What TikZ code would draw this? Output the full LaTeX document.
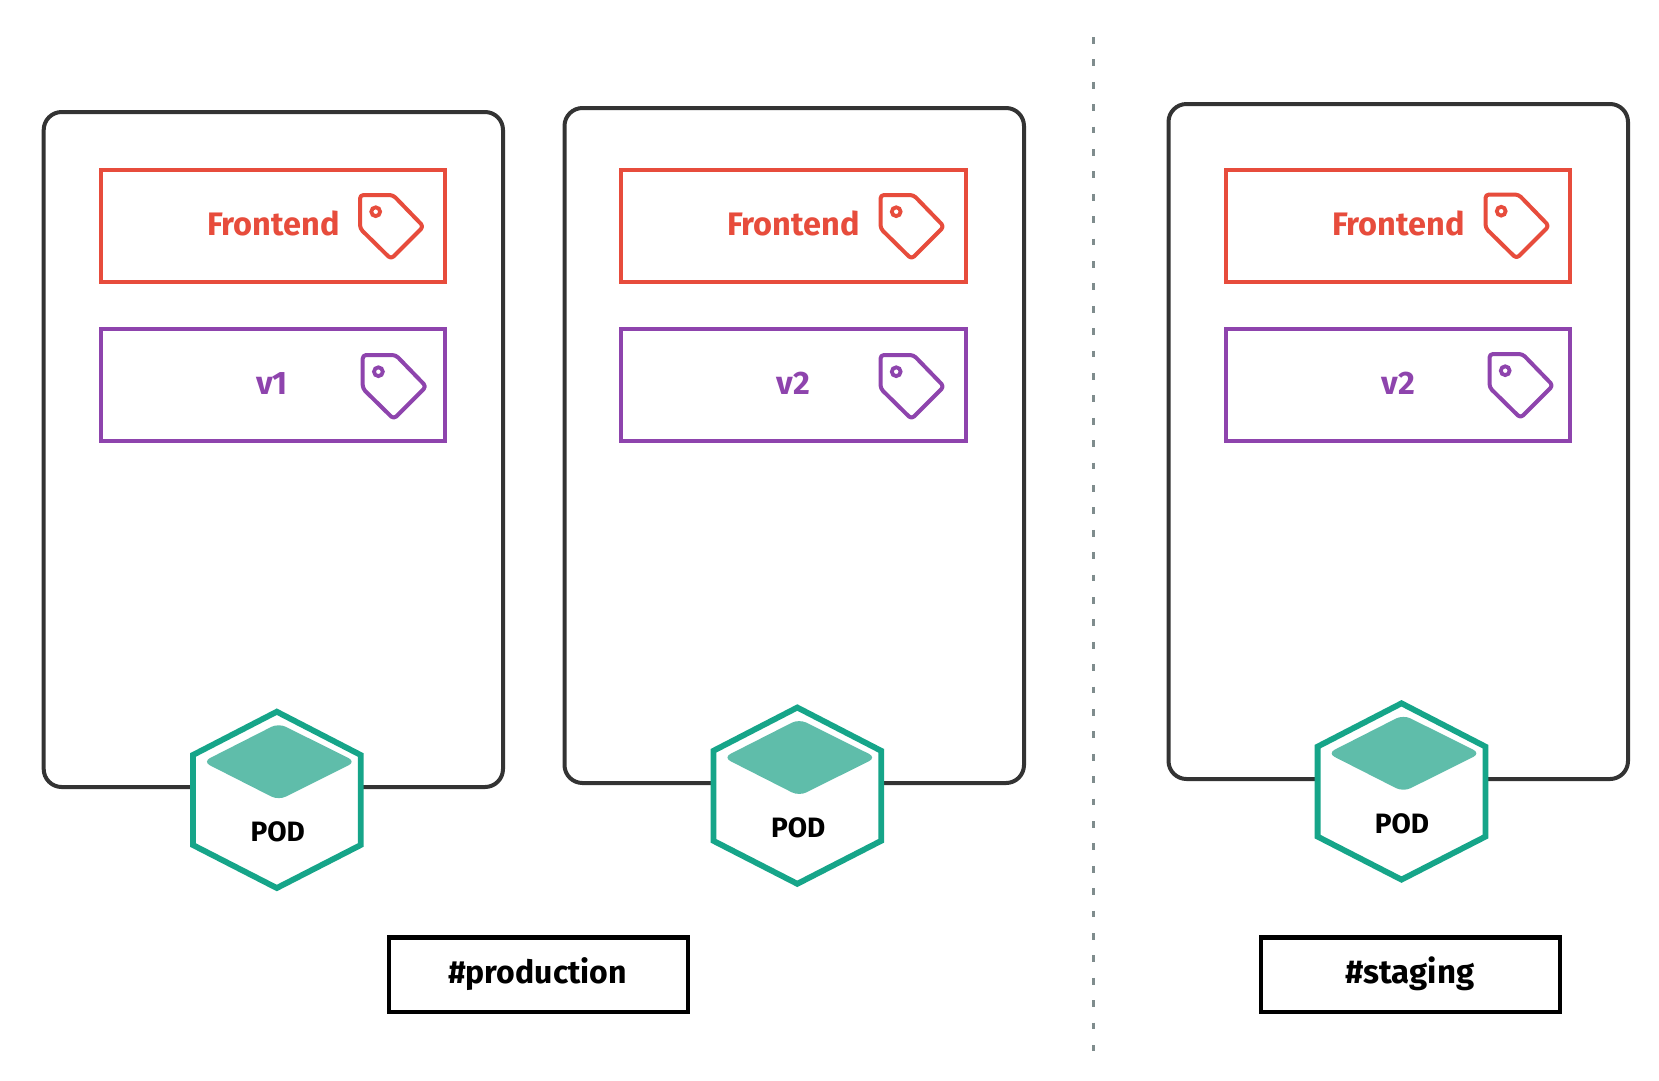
\documentclass[tikz,border=0pt]{standalone}
\usepackage{fontspec}
\setmainfont{Fira Sans}
\definecolor{tagred}{HTML}{E74C3C}
\definecolor{tagpurple}{HTML}{8E44AD}
\definecolor{boxdark}{HTML}{333333}
\definecolor{hexteal}{HTML}{16A589}
\definecolor{hexfill}{HTML}{5FBDAA}
\definecolor{dashgrey}{HTML}{7F8C8D}
\tikzset{
  nodebox/.style={draw=boxdark,line width=4pt,rounded corners=18pt},
  labelbox/.style={line width=4.2pt,fill=none},
  tagicon/.style={line width=4pt,rounded corners=3.5pt,line join=round},
  hexline/.style={draw=hexteal,fill=white,line width=5.8pt,line join=miter},
  hexdiamond/.style={fill=hexfill,rounded corners=8pt},
  labeltext/.style={anchor=base,inner sep=0pt,font=\fontsize{32.5}{32.5}\selectfont\bfseries},
  podtext/.style={anchor=base,inner sep=0pt,text=black,font=\fontsize{28}{28}\selectfont\bfseries},
  envbox/.style={draw=black,line width=4.4pt},
  envtext/.style={anchor=base,inner sep=0pt,text=black,font=\fontsize{32}{32}\selectfont\bfseries},
  sepline/.style={draw=dashgrey,line width=3pt,dash pattern=on 6.7pt off 15.7pt}
}
\newcommand{\pricetag}[3]{%
  \begin{scope}[shift={(#1,#2)}]
    \draw[tagicon,draw=#3] (0,0) -- (33,0) -- (63.5,31.5) -- (31,64) -- (0,33.5) -- cycle;
    \draw[#3,line width=3.8pt] (15.7,16.7) circle (4.4);
  \end{scope}}
\newcommand{\podhex}[2]{%
  \begin{scope}[shift={(#1,#2)}]
    \draw[hexline] (0,0) -- (83.9,43.3) -- (83.9,133.3) -- (0,176.3) -- (-83.9,133.3) -- (-83.9,43.3) -- cycle;
    \fill[hexdiamond] (1.8,11.5) -- (79,50) -- (1.8,88.5) -- (-74,50) -- cycle;
  \end{scope}}
\begin{document}
\begin{tikzpicture}[x=1pt,y=-1pt]
\useasboundingbox (0,0) rectangle (1659,1080);
\fill[white] (0,0) rectangle (1659,1080);
% separator
\draw[sepline] (1093.5,37) -- (1093.5,1051);
% node boxes
\draw[nodebox] (43.7,112) rectangle (503,787);
\draw[nodebox] (564.5,108) rectangle (1024,783);
\draw[nodebox] (1168.5,104) rectangle (1628,779);
% label boxes
\draw[labelbox,draw=tagred] (101,170) rectangle (445,282);
\draw[labelbox,draw=tagpurple] (101,329) rectangle (445,441);
\draw[labelbox,draw=tagred] (621,170) rectangle (966,282);
\draw[labelbox,draw=tagpurple] (621,329) rectangle (966,441);
\draw[labelbox,draw=tagred] (1226,170) rectangle (1570,282);
\draw[labelbox,draw=tagpurple] (1226,329) rectangle (1570,441);
% texts
\node[labeltext,text=tagred] (fe1) at (273.5,235) {Frontend};
\node[labeltext,text=tagpurple] (v1) at (272,394) {v1};
\node[labeltext,text=tagred] (fe2) at (793.5,235) {Frontend};
\node[labeltext,text=tagpurple] (v2) at (793.5,394) {v2};
\node[labeltext,text=tagred] (fe3) at (1398.5,235) {Frontend};
\node[labeltext,text=tagpurple] (v3) at (1398.5,394) {v2};
% tags
\pricetag{360}{195}{tagred}
\pricetag{362.7}{355}{tagpurple}
\pricetag{880.5}{195}{tagred}
\pricetag{880.5}{355}{tagpurple}
\pricetag{1485.5}{194.5}{tagred}
\pricetag{1489.5}{354}{tagpurple}
% pods
\podhex{276.8}{711.7}
\podhex{797.3}{707.5}
\podhex{1401.5}{703.3}
\node[podtext] (pod1) at (277.7,841.7) {POD};
\node[podtext] (pod2) at (798.2,837.5) {POD};
\node[podtext] (pod3) at (1402,833.3) {POD};
% environment labels
\draw[envbox] (388.8,937.5) rectangle (688,1011.7);
\draw[envbox] (1260.8,937.5) rectangle (1560,1011.7);
\node[envtext] (prod) at (537.5,983.5) {\#production};
\node[envtext,font=\fontsize{33}{33}\selectfont\bfseries] (stag) at (1410,983.5) {\#staging};
\end{tikzpicture}
\end{document}
